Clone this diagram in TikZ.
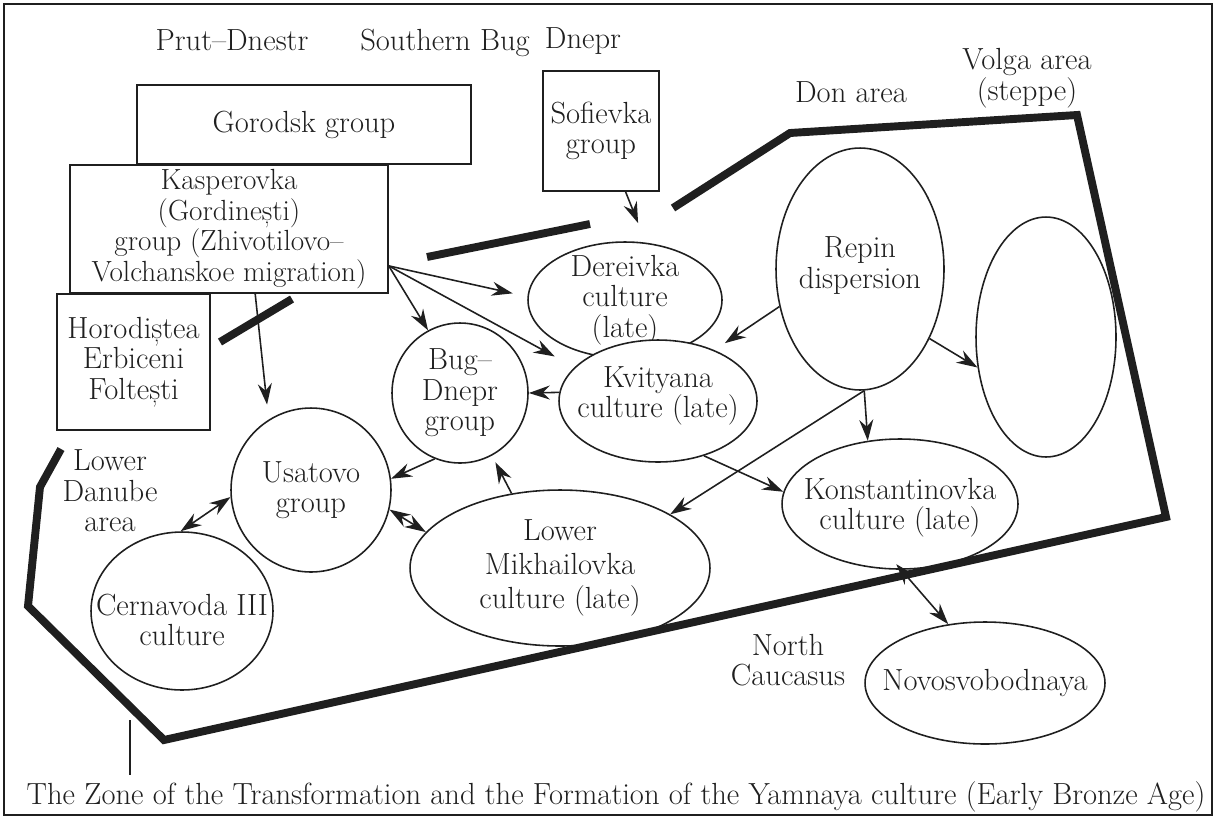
\documentclass[tikz,border=0pt]{standalone}
\usepackage{tikz}
\usetikzlibrary{arrows.meta, positioning, shapes.geometric}
\definecolor{ink}{gray}{0.12}

\begin{document}
\begin{tikzpicture}[
  x=0.02cm, y=-0.02cm,
  every node/.style={inner sep=0pt, align=center, text=ink, font=\fontsize{17.4}{17.4}\selectfont},
  box/.style={draw=ink, line width=0.9pt, rectangle},
  oval/.style={draw=ink, line width=0.9pt, ellipse},
  arrow/.style={-{Stealth[length=12pt, width=8pt, inset=4pt]}, draw=ink, line width=0.9pt},
  twoway/.style={{Stealth[length=12pt, width=8pt, inset=4pt]}-{Stealth[length=12pt, width=8pt, inset=4pt]}, draw=ink, line width=0.9pt},
  zone/.style={draw=ink, line width=4.5pt}
]
\useasboundingbox (0,0) rectangle (1216,819);
\draw[ink, line width=0.8pt] (4,4) rectangle (1212,815);

% Region labels
\node[anchor=base] (prut) at (232,50) {Prut–Dnestr};
\node[anchor=base] (sbug) at (445,50) {Southern Bug};
\node[anchor=base] (dnepr) at (583,48) {Dnepr};
\node[anchor=base] (don) at (851,102) {Don area};
\node (volgalab) at (1027,78) {Volga area\\(steppe)};
\node (danube) at (110,491) {Lower\\Danube\\area};
\node (caucasus) at (788,660) {North\\Caucasus};

% Boxes
\node[box, minimum width=6.68cm, minimum height=1.58cm] (goro) at (304,124.5) {Gorodsk group};
\node[box, minimum width=6.36cm, minimum height=2.56cm, font=\fontsize{16.6}{17.4}\selectfont] (kasp) at (229,229) {Kasperovka\\(Gordinești)\\group (Zhivotilovo–\\Volchanskoe migration)};
\node[box, minimum width=3.06cm, minimum height=2.72cm] (horo) at (133.5,362) {Horodiștea\\Erbiceni\\Foltești};
\node[box, minimum width=2.32cm, minimum height=2.4cm] (sofi) at (601,131) {Sofievka\\group};

% Cultures
\node[oval, minimum width=3.88cm, minimum height=2.32cm, label={center:Dereivka\\culture\\(late)}] (dere) at (625,300) {};
\node[oval, fill=white, minimum width=3.96cm, minimum height=2.44cm, label={[yshift=3pt]center:Kvityana\\culture (late)}] (kvit) at (658,401) {};
\node[oval, minimum width=2.72cm, minimum height=2.8cm, label={center:Bug–\\Dnepr\\group}] (bugd) at (460,393) {};
\node[oval, minimum width=3.2cm, minimum height=3.28cm, label={center:Usatovo\\group}] (usat) at (311,490) {};
\node[oval, minimum width=3.64cm, minimum height=3.16cm, label={[yshift=-5pt]center:Cernavoda III\\culture}] (cern) at (182,611) {};
\node[oval, minimum width=6.0cm, minimum height=3.12cm, label={[font=\fontsize{17.4}{19.5}\selectfont]center:Lower\\Mikhailovka\\culture (late)}] (lmik) at (560,568) {};
\node[oval, minimum width=3.36cm, minimum height=4.84cm, label={[yshift=2pt]center:Repin\\dispersion}] (repin) at (860,269) {};
\node[oval, minimum width=2.8cm, minimum height=4.8cm] (volga) at (1046,337) {};
\node[oval, minimum width=4.72cm, minimum height=2.6cm, label={[yshift=-2pt]center:Konstantinovka\\culture (late)}] (kons) at (900,504) {};
\node[oval, minimum width=4.8cm, minimum height=2.44cm, label={center:Novosvobodnaya}] (novo) at (985,683) {};

% Zone border
\draw[zone] (673,208) -- (790,133) -- (1077,115) -- (1166,517) -- (164,740) -- (28,606) -- (40,487) -- (61,449);
\draw[zone] (427,257) -- (590,224);
\draw[zone] (220,342) -- (292,299);

% Arrows
\draw[arrow, shorten >=0.3cm] (kasp.-13) -- (dere.178);
\draw[arrow] (kasp.-13) -- (bugd.117);
\draw[arrow, shorten >=0.45cm] (kasp.-13) -- (kvit.158);
\draw[arrow, shorten >=0.3cm] (kasp.-68) -- (usat.121);
\draw[arrow, shorten >=0.42cm] (sofi.-68) -- (dere.70);
\draw[arrow, shorten >=0.25cm] (repin.205) -- (kvit.42);
\draw[arrow] (kvit.175) -- (bugd.0);
\draw[arrow] (bugd.249) -- (usat.8);
\draw[arrow, shorten >=0.15cm] (lmik.123) -- (bugd.-63);
\draw[twoway] (usat.-14) -- (lmik.165);
\draw[twoway] (usat.185) -- (cern.91);
\draw[arrow] (repin.-88) -- (kons.117);
\draw[arrow] (repin.-88) -- (lmik.26);
\draw[arrow] (kvit.-50) -- (kons.174);
\draw[arrow] (repin.-45) -- (volga.204);
\draw[twoway, shorten <=-0.15cm] (kons.-89) -- (novo.122);

% Caption
\node (caption) at (616,797) {The Zone of the Transformation and the Formation of the Yamnaya culture (Early Bronze Age)};
\coordinate (ztick) at (130,720);
\draw[ink, line width=0.8pt] (ztick) -- ++(0,55);

\end{tikzpicture}
\end{document}
